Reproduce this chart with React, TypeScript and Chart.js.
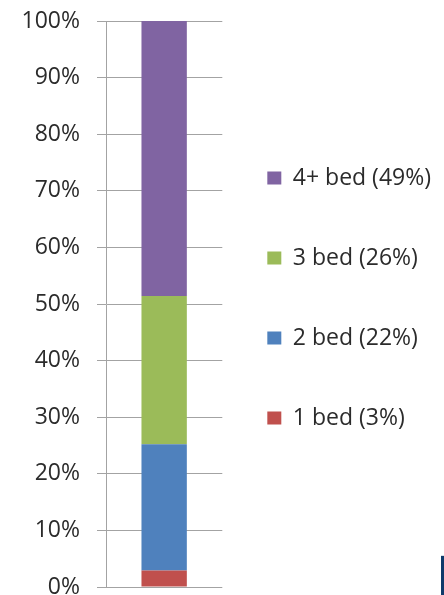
import React, { useEffect, useRef } from "react";
import { Chart, registerables } from "chart.js";

Chart.register(...registerables);

const categories = [""];
const seriesLabels = ["1 bed (3%)", "2 bed (22%)", "3 bed (26%)", "4+ bed (49%)"];
const oneBed = [2.9];
const twoBed = [22.3];
const threeBed = [26.2];
const fourBed = [48.6];
const seriesColors = ["#C0504D", "#4F81BD", "#9BBB59", "#8064A2"];
const yMin = 0;
const yMax = 100;
const yStep = 10;

const FONT = "'Open Sans', 'Liberation Sans', sans-serif";
const TEXT = "#2b2b2b";
const GRID = "#a3a3a3";

export default function App() {
  const ref = useRef<HTMLCanvasElement | null>(null);

  useEffect(() => {
    if (!ref.current) return;
    const values = [oneBed, twoBed, threeBed, fourBed];
    const chart = new Chart(ref.current, {
      type: "bar",
      data: {
        labels: categories,
        datasets: values.map((v, i) => ({
          label: seriesLabels[i],
          data: v,
          backgroundColor: seriesColors[i],
          borderWidth: 0,
          categoryPercentage: 1,
          barPercentage: 0.39,
        })),
      },
      options: {
        responsive: false,
        animation: false,
        devicePixelRatio: 1,
        layout: { padding: { top: 21, bottom: 8, left: 0, right: 3 } },
        scales: {
          x: { stacked: true, display: false },
          y: {
            stacked: true,
            min: yMin,
            max: yMax,
            ticks: {
              stepSize: yStep,
              padding: 17,
              color: TEXT,
              font: { family: FONT, size: 23 },
              callback: (v: any) => v + "%",
            },
            grid: { color: GRID, lineWidth: 1, drawTicks: true, tickLength: 9, tickColor: GRID },
            border: { display: true, color: GRID, width: 1 },
            afterFit: (scale: any) => {
              scale.width = 106;
              scale.paddingTop = 0;
              scale.paddingBottom = 0;
            },
          },
        },
        plugins: {
          tooltip: { enabled: false },
          legend: {
            position: "right",
            align: "center",
            reverse: true,
            maxWidth: 400,
            labels: {
              boxWidth: 14,
              boxHeight: 13,
              padding: 45,
              color: TEXT,
              font: { family: FONT, size: 23, lineHeight: "35px" },
              generateLabels: (c: any) =>
                Chart.defaults.plugins.legend.labels
                  .generateLabels(c)
                  .map((it: any) => ({ ...it, text: [it.text], lineWidth: 0 })),
            },
          },
        },
      },
    });
    return () => chart.destroy();
  }, []);

  return (
    <div style={{ position: "absolute", left: 0, top: 0, width: 444, height: 595, overflow: "hidden", background: "#fff" }}>
      <canvas ref={ref} width={444} height={595} />
      <div style={{ position: "absolute", left: 441, top: 555, width: 3, height: 40, background: "#0f3a6b", borderTop: "1px solid #d9dee5" }} />
    </div>
  );
}
